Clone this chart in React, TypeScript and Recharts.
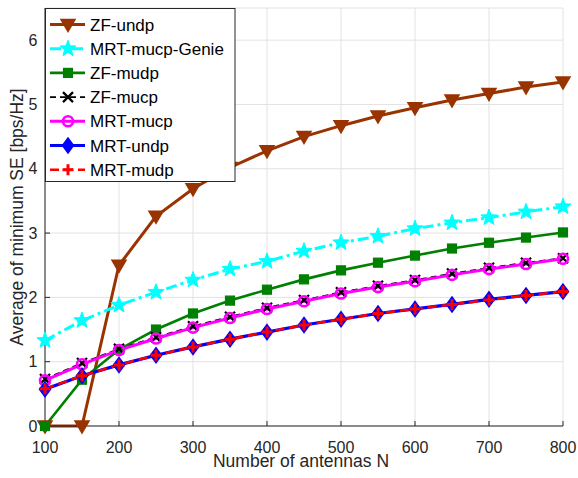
import React from 'react';
import { LineChart, Line, XAxis, YAxis, CartesianGrid, Legend } from 'recharts';

// Number of antennas N
const antennas = [100, 150, 200, 250, 300, 350, 400, 450, 500, 550, 600, 650, 700, 750, 800];

// Average of minimum SE [bps/Hz] per scheme
const zfUndp = [0, 0, 2.5, 3.26, 3.69, 4.02, 4.28, 4.5, 4.67, 4.82, 4.95, 5.07, 5.17, 5.27, 5.35];
const mrtMucpGenie = [1.33, 1.64, 1.88, 2.08, 2.27, 2.44, 2.56, 2.72, 2.85, 2.95, 3.07, 3.16, 3.24, 3.33, 3.41];
const zfMudp = [0, 0.72, 1.19, 1.5, 1.75, 1.95, 2.12, 2.28, 2.42, 2.54, 2.65, 2.76, 2.85, 2.93, 3.01];
const zfMucp = [0.73, 0.98, 1.2, 1.38, 1.55, 1.7, 1.84, 1.96, 2.08, 2.18, 2.27, 2.37, 2.46, 2.54, 2.61];
const mrtMucp = [0.71, 0.96, 1.18, 1.36, 1.53, 1.68, 1.82, 1.94, 2.06, 2.16, 2.25, 2.35, 2.44, 2.52, 2.6];
const mrtUndp = [0.57, 0.78, 0.95, 1.1, 1.23, 1.35, 1.46, 1.57, 1.66, 1.75, 1.82, 1.89, 1.97, 2.03, 2.09];
const mrtMudp = [0.58, 0.78, 0.95, 1.1, 1.23, 1.35, 1.46, 1.57, 1.66, 1.75, 1.82, 1.89, 1.96, 2.03, 2.09];

const xTicks = [100, 200, 300, 400, 500, 600, 700, 800];
const yTicks = [0, 1, 2, 3, 4, 5, 6];

const AXIS = '#262626';
const GRID = '#e2e2e2';
const FONT = '"Liberation Sans", Arial, Helvetica, sans-serif';

type Shape = 'tri' | 'star' | 'square' | 'x' | 'circle' | 'diamond' | 'plus';

interface Series {
  key: string;
  name: string;
  color: string;
  width: number;
  dash?: string;
  shape: Shape;
  values: number[];
}

const series: Series[] = [
  { key: 'zfUndp', name: 'ZF-undp', color: '#993300', width: 3, shape: 'tri', values: zfUndp },
  { key: 'mrtMucpGenie', name: 'MRT-mucp-Genie', color: '#00ffff', width: 3, dash: '11 4 3 4', shape: 'star', values: mrtMucpGenie },
  { key: 'zfMudp', name: 'ZF-mudp', color: '#008000', width: 2.6, shape: 'square', values: zfMudp },
  { key: 'zfMucp', name: 'ZF-mucp', color: '#000000', width: 1.6, dash: '6 4', shape: 'x', values: zfMucp },
  { key: 'mrtMucp', name: 'MRT-mucp', color: '#ff00ff', width: 3, shape: 'circle', values: mrtMucp },
  { key: 'mrtUndp', name: 'MRT-undp', color: '#0000ff', width: 3.2, shape: 'diamond', values: mrtUndp },
  { key: 'mrtMudp', name: 'MRT-mudp', color: '#ff0000', width: 2.6, dash: '9 5', shape: 'plus', values: mrtMudp },
];

const rows = antennas.map((n, i) => {
  const row: Record<string, number> = { n };
  series.forEach((s) => {
    row[s.key] = s.values[i];
  });
  return row;
});

function starPath(cx: number, cy: number, outer: number, inner: number) {
  const pts: string[] = [];
  for (let i = 0; i < 10; i++) {
    const a = ((-90 + i * 36) * Math.PI) / 180;
    const r = i % 2 === 0 ? outer : inner;
    pts.push(`${(cx + r * Math.cos(a)).toFixed(2)},${(cy + r * Math.sin(a)).toFixed(2)}`);
  }
  return `M${pts.join('L')}Z`;
}

function Marker({ shape, color, cx, cy }: { shape: Shape; color: string; cx: number; cy: number }) {
  switch (shape) {
    case 'tri':
      return (
        <path
          d={`M${cx - 7},${cy - 5}L${cx + 7},${cy - 5}L${cx},${cy + 7}Z`}
          fill={color}
          stroke={color}
          strokeWidth={1.5}
          strokeLinejoin="miter"
        />
      );
    case 'star':
      return <path d={starPath(cx, cy, 8.5, 3.6)} fill={color} stroke={color} strokeWidth={1} />;
    case 'square':
      return <rect x={cx - 4.5} y={cy - 4.5} width={9} height={9} fill={color} stroke={color} strokeWidth={1.2} />;
    case 'x':
      return (
        <path
          d={`M${cx - 5},${cy - 5}L${cx + 5},${cy + 5}M${cx - 5},${cy + 5}L${cx + 5},${cy - 5}`}
          stroke={color}
          strokeWidth={2.2}
          fill="none"
        />
      );
    case 'circle':
      return <circle cx={cx} cy={cy} r={5} fill="none" stroke={color} strokeWidth={2.6} />;
    case 'diamond':
      return (
        <path
          d={`M${cx},${cy - 7.5}L${cx + 5.5},${cy}L${cx},${cy + 7.5}L${cx - 5.5},${cy}Z`}
          fill={color}
          stroke={color}
          strokeWidth={1.5}
        />
      );
    case 'plus':
    default:
      return (
        <path
          d={`M${cx - 5.5},${cy}L${cx + 5.5},${cy}M${cx},${cy - 5.5}L${cx},${cy + 5.5}`}
          stroke={color}
          strokeWidth={3}
          fill="none"
        />
      );
  }
}

const makeDot = (s: Series) => (props: any) => {
  const { cx, cy, index } = props;
  if (cx == null || cy == null) return <g key={`${s.key}-${index}`} />;
  return (
    <g key={`${s.key}-${index}`}>
      <Marker shape={s.shape} color={s.color} cx={cx} cy={cy} />
    </g>
  );
};

// Boxed legend in the top-left corner of the axes
const LegendBox = () => {
  const w = 191;
  const h = 174;
  const rowTop = 16.5;
  const step = 24.2;
  return (
    <svg width={w} height={h} style={{ display: 'block' }}>
      <rect x={0.5} y={0.5} width={w - 1.5} height={h - 1} fill="#ffffff" stroke={AXIS} strokeWidth={1} />
      {series.map((s, i) => {
        const y = rowTop + i * step;
        return (
          <g key={s.key}>
            <line x1={5} x2={40} y1={y} y2={y} stroke={s.color} strokeWidth={s.width} strokeDasharray={s.dash} />
            <Marker shape={s.shape} color={s.color} cx={23} cy={y} />
            <text x={45} y={y + 6} fontSize={17} fill="#000000" fontFamily={FONT}>
              {s.name}
            </text>
          </g>
        );
      })}
    </svg>
  );
};

const YTitle = (props: any) => {
  const vb = props.viewBox || { x: 0, y: 8, width: 45, height: 418 };
  const x = vb.x + 23;
  const y = vb.y + vb.height / 2;
  return (
    <text x={x} y={y} transform={`rotate(-90 ${x} ${y})`} textAnchor="middle" fontSize={17.5} fill={AXIS} fontFamily={FONT}>
      Average of minimum SE [bps/Hz]
    </text>
  );
};

const XTitle = (props: any) => {
  const vb = props.viewBox || { x: 45, y: 426, width: 518, height: 52 };
  const x = vb.x + vb.width / 2 - 3;
  const y = vb.y + 41;
  return (
    <text x={x} y={y} textAnchor="middle" fontSize={17.5} fill={AXIS} fontFamily={FONT}>
      Number of antennas N
    </text>
  );
};

export default function App() {
  const tickStyle = { fontSize: 16, fill: AXIS, fontFamily: FONT };
  return (
    <div
      style={{
        position: 'absolute',
        left: 0,
        top: 0,
        width: 578,
        height: 478,
        background: '#ffffff',
        fontFamily: FONT,
      }}
    >
      <LineChart width={578} height={478} data={rows} margin={{ top: 8, right: 15, bottom: 0, left: 0 }}>
        <CartesianGrid stroke={GRID} strokeWidth={1} />
        <XAxis
          dataKey="n"
          type="number"
          domain={[100, 800]}
          ticks={xTicks}
          interval={0}
          height={52}
          tickSize={-5}
          tickMargin={20.5}
          tick={tickStyle}
          axisLine={{ stroke: AXIS }}
          tickLine={{ stroke: AXIS }}
          label={{ content: XTitle }}
        />
        <XAxis
          xAxisId="top"
          orientation="top"
          type="number"
          domain={[100, 800]}
          ticks={xTicks}
          interval={0}
          height={0}
          tickSize={-5}
          tickFormatter={() => ''}
          axisLine={{ stroke: AXIS }}
          tickLine={{ stroke: AXIS }}
        />
        <YAxis
          type="number"
          domain={[0, 6.5]}
          ticks={yTicks}
          interval={0}
          width={45}
          tickSize={-5}
          tickMargin={12.5}
          tick={tickStyle}
          axisLine={{ stroke: AXIS }}
          tickLine={{ stroke: AXIS }}
          label={{ content: YTitle }}
        />
        <YAxis
          yAxisId="right"
          orientation="right"
          type="number"
          domain={[0, 6.5]}
          ticks={yTicks}
          interval={0}
          width={0}
          tickSize={-5}
          tickFormatter={() => ''}
          axisLine={{ stroke: AXIS }}
          tickLine={{ stroke: AXIS }}
        />
        <Legend
          layout="vertical"
          align="center"
          verticalAlign="middle"
          content={() => <LegendBox />}
          wrapperStyle={{ position: 'absolute', left: 45, top: 8, width: 191, height: 174, margin: 0 }}
        />
        {series.map((s) => (
          <Line
            key={s.key}
            type="linear"
            dataKey={s.key}
            name={s.name}
            stroke={s.color}
            strokeWidth={s.width}
            strokeDasharray={s.dash}
            dot={makeDot(s)}
            activeDot={false}
            isAnimationActive={false}
          />
        ))}
      </LineChart>
    </div>
  );
}
